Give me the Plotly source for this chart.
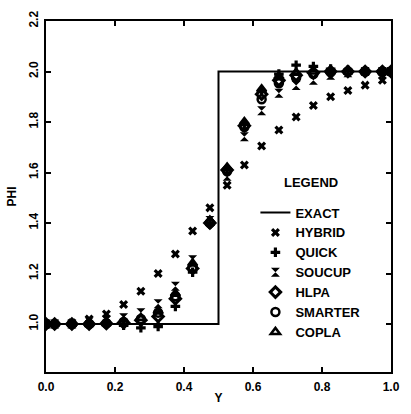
import plotly.graph_objects as go

x = [0.0, 0.025, 0.075, 0.125, 0.175, 0.225, 0.275, 0.325, 0.375, 0.425, 0.475,
     0.525, 0.575, 0.625, 0.675, 0.725, 0.775, 0.825, 0.875, 0.925, 0.975, 1.0]

exact_x = [0.0, 0.5, 0.5, 1.0]
exact_y = [1.0, 1.0, 2.0, 2.0]

hybrid = [1.0, 1.0, 1.005, 1.02, 1.04, 1.077, 1.13, 1.20, 1.277, 1.368, 1.46,
          1.55, 1.63, 1.705, 1.768, 1.82, 1.865, 1.90, 1.925, 1.946, 1.965, 2.0]
quick = [1.0, 1.0, 1.0, 1.0, 1.0, 0.995, 0.985, 0.99, 1.07, 1.205, 1.395,
         1.61, 1.79, 1.92, 1.99, 2.025, 2.02, 2.01, 2.005, 2.0, 2.0, 2.0]
soucup = [1.0, 1.0, 1.0, 1.008, 1.015, 1.025, 1.045, 1.08, 1.15, 1.255, 1.41,
          1.585, 1.742, 1.845, 1.914, 1.945, 1.965, 1.985, 1.995, 2.0, 2.0, 2.0]
hlpa = [1.0, 1.0, 1.0, 1.0, 1.002, 1.005, 1.015, 1.03, 1.10, 1.22, 1.40,
        1.61, 1.785, 1.91, 1.965, 1.985, 1.995, 2.0, 2.0, 2.0, 2.0, 2.0]
smarter = [1.0, 1.0, 1.0, 1.0, 1.003, 1.008, 1.02, 1.045, 1.11, 1.225, 1.40,
           1.605, 1.78, 1.89, 1.953, 1.975, 1.99, 1.997, 2.0, 2.0, 2.0, 2.0]
copla = [1.0, 1.0, 1.0, 1.0, 1.003, 1.01, 1.025, 1.05, 1.12, 1.24, 1.41,
         1.62, 1.80, 1.93, 1.98, 1.995, 2.0, 2.0, 2.0, 2.0, 2.0, 2.0]

xticks = [0.0, 0.2, 0.4, 0.6, 0.8, 1.0]
xticklabels = ["0.0", "0.2", "0.4", "0.6", "0.8", "1.0"]
yticks = [1.0, 1.2, 1.4, 1.6, 1.8, 2.0, 2.2]
yticklabels = ["1.0", "1.2", "1.4", "1.6", "1.8", "2.0", "2.2"]

FONT = dict(family="Liberation Sans", size=12, color="black", weight="bold")
LFONT = dict(family="Liberation Sans", size=13, color="black", weight="bold")
BLACK = "black"

fig = go.Figure()
fig.add_trace(go.Scatter(x=exact_x, y=exact_y, mode="lines", name="EXACT",
                         line=dict(color=BLACK, width=2)))
fig.add_trace(go.Scatter(x=x, y=hybrid, mode="markers", name="HYBRID",
                         marker=dict(symbol="x", size=8, color=BLACK)))
fig.add_trace(go.Scatter(x=x, y=quick, mode="markers", name="QUICK",
                         marker=dict(symbol="cross", size=8, color=BLACK)))
fig.add_trace(go.Scatter(x=x, y=soucup, mode="markers", name="SOUCUP",
                         marker=dict(symbol="hourglass", size=9, color=BLACK)))
fig.add_trace(go.Scatter(x=x, y=hlpa, mode="markers", name="HLPA",
                         marker=dict(symbol="diamond-open", size=8, color=BLACK,
                                     line=dict(width=3, color=BLACK))))
fig.add_trace(go.Scatter(x=x, y=smarter, mode="markers", name="SMARTER",
                         marker=dict(symbol="circle-open", size=8, color=BLACK,
                                     line=dict(width=2.5, color=BLACK))))
fig.add_trace(go.Scatter(x=x, y=copla, mode="markers", name="COPLA",
                         marker=dict(symbol="triangle-up-open", size=8, color=BLACK,
                                     line=dict(width=2.5, color=BLACK))))

axis_common = dict(showline=True, linecolor=BLACK, linewidth=2, mirror="ticks",
                   ticks="inside", ticklen=5, tickwidth=2, tickcolor=BLACK,
                   showgrid=False, zeroline=False, tickfont=FONT,
                   ticklabelstandoff=3)

fig.update_xaxes(range=[0, 1.0], tickvals=xticks, ticktext=xticklabels,
                 title=dict(text="Y", font=FONT, standoff=0), **axis_common)
fig.update_yaxes(range=[0.81, 2.2], tickvals=yticks, ticktext=yticklabels,
                 tickangle=-90, ticklabelstandoff=1,
                 title=dict(text="PHI", font=FONT, standoff=8),
                 **{k: v for k, v in axis_common.items() if k != "ticklabelstandoff"})

fig.update_layout(
    width=411, height=414,
    margin=dict(l=40, r=11, t=19, b=33),
    paper_bgcolor="white", plot_bgcolor="white",
    font=FONT,
    showlegend=True,
    legend=dict(x=0.607, y=0.497, xanchor="left", yanchor="top",
                bgcolor="rgba(0,0,0,0)", font=LFONT,
                itemwidth=30, tracegroupgap=0),
    annotations=[dict(text="LEGEND", xref="paper", yref="paper",
                      x=0.767, y=0.541, xanchor="center", yanchor="middle",
                      showarrow=False, font=LFONT)],
)

fig.write_html("out.html",
               config={"displayModeBar": False},
               post_script="document.body.style.margin='0';")
